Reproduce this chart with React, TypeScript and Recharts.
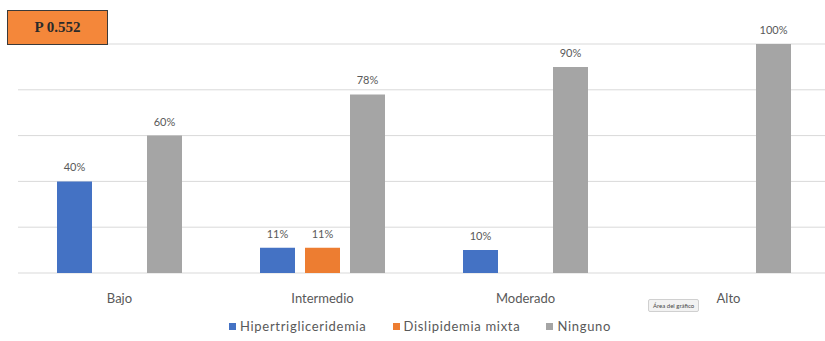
import { BarChart, Bar, XAxis, YAxis, CartesianGrid, LabelList } from "recharts";

const categories = ["Bajo", "Intermedio", "Moderado", "Alto"];
const hipertrigliceridemia = [40, 11, 10, 0];
const dislipidemiaMixta = [0, 11, 0, 0];
const ninguno = [60, 78, 90, 100];

const SERIES = [
  { key: "hiper", name: "Hipertrigliceridemia", color: "#4472C4", values: hipertrigliceridemia },
  { key: "disli", name: "Dislipidemia mixta", color: "#ED7D31", values: dislipidemiaMixta },
  { key: "ning", name: "Ninguno", color: "#A5A5A5", values: ninguno },
];

const data = categories.map((c, i) => {
  const row: Record<string, string | number> = { name: c };
  SERIES.forEach((s) => (row[s.key] = s.values[i]));
  return row;
});

const FONT = "Lato, 'Open Sans', sans-serif";

const CatTick = ({ x, y, payload }: any) => (
  <text x={x} y={y + 22} textAnchor="middle" fill="#595959" fontSize={13} fontFamily={FONT}>
    {payload.value}
  </text>
);

const pct = (v: any) => (Number(v) > 0 ? `${v}%` : "");

export default function App() {
  return (
    <div style={{ position: "relative", width: 825, height: 341, overflow: "hidden", background: "#fff" }}>
      <style>{`body{margin:0}`}</style>
      <BarChart width={830} height={341} data={data} barSize={35} barGap={10}
        margin={{ top: 44, right: 0, left: 18, bottom: 0 }}>
        <CartesianGrid vertical={false} stroke="#D9D9D9" />
        <YAxis hide domain={[0, 100]} ticks={[0, 20, 40, 60, 80, 100]} />
        <XAxis dataKey="name" height={68} axisLine={false} tickLine={false} tick={<CatTick />} />
        {SERIES.map((s) => (
          <Bar key={s.key} dataKey={s.key} name={s.name} fill={s.color} isAnimationActive={false}>
            <LabelList dataKey={s.key} position="top" offset={10} formatter={pct}
              style={{ fill: "#595959", fontSize: 11, fontFamily: FONT }} />
          </Bar>
        ))}
      </BarChart>

      <div style={{ position: "absolute", left: 7, top: 10, width: 101, height: 35, background: "#F4873A",
        border: "1.5px solid #3a3a3a", boxSizing: "border-box", display: "flex", alignItems: "center",
        justifyContent: "center", fontFamily: "'Liberation Serif', serif", fontWeight: 700, fontSize: 15, color: "#2a2a2a" }}>
        P 0.552
      </div>

      <div style={{ position: "absolute", left: 648, top: 299, padding: "2px 4px", background: "#f2f2f2",
        border: "1px solid #d0d0d0", borderRadius: 2, fontSize: 6, fontFamily: FONT, color: "#444" }}>
        Área del gráfico
      </div>

      <div style={{ position: "absolute", top: 318, left: 229, display: "flex",
        gap: 26, fontFamily: FONT, fontSize: 13, letterSpacing: 0.7, color: "#595959" }}>
        {SERIES.map((s) => (
          <div key={s.key} style={{ display: "flex", alignItems: "center", gap: 4 }}>
            <div style={{ width: 7, height: 7, background: s.color }} />
            <span>{s.name}</span>
          </div>
        ))}
      </div>
    </div>
  );
}
